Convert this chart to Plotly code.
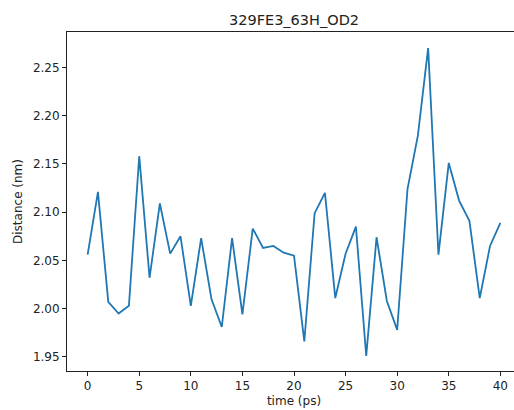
import plotly.graph_objects as go

# Sampling times (ps) and O–O distance (nm) for 329FE3_63H_OD2
time_ps = list(range(0, 41))
distance_nm = [
    2.056, 2.121, 2.007, 1.995, 2.003, 2.158, 2.032, 2.109, 2.057, 2.075,
    2.003, 2.073, 2.010, 1.981, 2.073, 1.994, 2.083, 2.063, 2.065, 2.058,
    2.055, 1.966, 2.099, 2.120, 2.011, 2.057, 2.085, 1.951, 2.074, 2.008,
    1.978, 2.124, 2.179, 2.270, 2.056, 2.151, 2.112, 2.091, 2.011, 2.065,
    2.089,
]
x_ticks = [0, 5, 10, 15, 20, 25, 30, 35, 40]
y_ticks = [1.95, 2.00, 2.05, 2.10, 2.15, 2.20, 2.25]

font_family = "DejaVu Sans, sans-serif"
ink = "#222222"

fig = go.Figure(
    go.Scatter(
        x=time_ps,
        y=distance_nm,
        mode="lines",
        line=dict(color="#1f77b4", width=1.8),
        hoverinfo="skip",
    )
)

axis_common = dict(
    automargin=False,
    showgrid=False,
    zeroline=False,
    showline=True,
    mirror=True,
    linecolor=ink,
    linewidth=1,
    ticks="outside",
    ticklen=4,
    tickwidth=1,
    tickcolor=ink,
    tickfont=dict(family=font_family, size=12, color=ink),
)

fig.update_layout(
    width=530,
    height=410,
    margin=dict(l=67, r=9, t=32, b=39),
    paper_bgcolor="white",
    plot_bgcolor="white",
    showlegend=False,
    title=dict(
        text="329FE3_63H_OD2",
        x=0.5,
        xref="paper",
        xanchor="center",
        y=1 - 20 / 410,
        yref="container",
        yanchor="middle",
        font=dict(family=font_family, size=14.5, color=ink),
    ),
    xaxis=dict(
        **axis_common,
        range=[-2, 42],
        tickvals=x_ticks,
        ticktext=[str(v) for v in x_ticks],
        title=dict(text="time (ps)", standoff=4,
                   font=dict(family=font_family, size=12, color=ink)),
    ),
    yaxis=dict(
        **axis_common,
        range=[1.9354, 2.2867],
        tickvals=y_ticks,
        ticktext=[f"{v:.2f}" for v in y_ticks],
        title=dict(text="Distance (nm)", standoff=7,
                   font=dict(family=font_family, size=12, color=ink)),
    ),
)

fig.write_html("out.html")
